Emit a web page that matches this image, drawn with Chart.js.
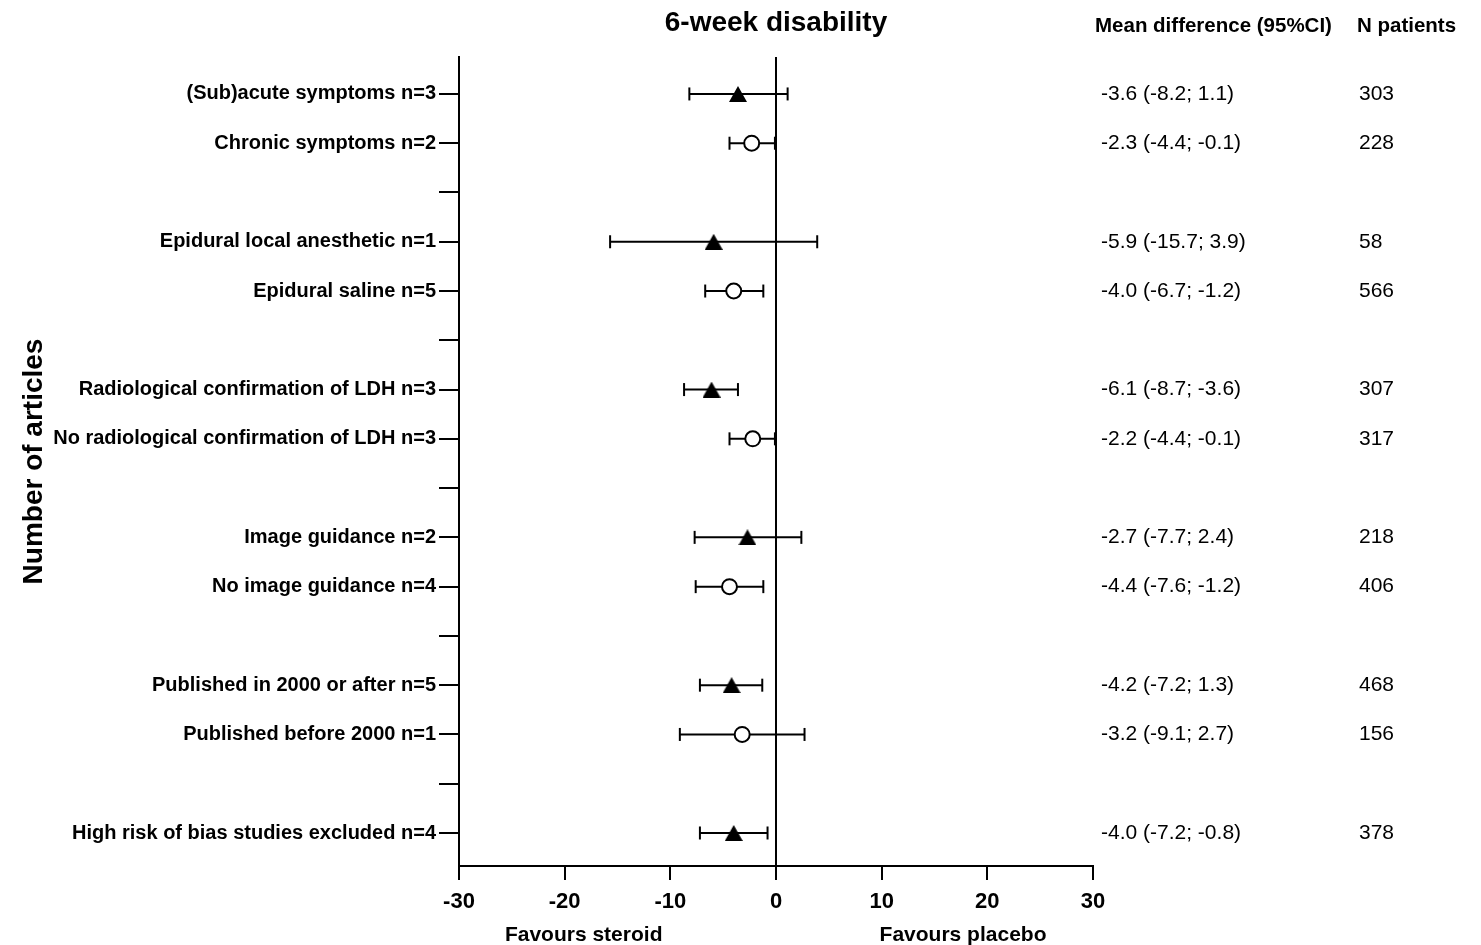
<!DOCTYPE html>
<html>
<head>
<meta charset="utf-8">
<script src="https://cdn.jsdelivr.net/npm/chart.js@4"></script>
<style>
  html, body { margin: 0; padding: 0; background: #fff; }
  canvas { display: block; }
</style>
</head>
<body>
<canvas id="c" width="1481" height="945"></canvas>
<script>
// ---- Data ----
const categories = [
  '(Sub)acute symptoms n=3', 'Chronic symptoms n=2', '',
  'Epidural local anesthetic n=1', 'Epidural saline n=5', '',
  'Radiological confirmation of LDH n=3', 'No radiological confirmation of LDH n=3', '',
  'Image guidance n=2', 'No image guidance n=4', '',
  'Published in 2000 or after n=5', 'Published before 2000 n=1', '',
  'High risk of bias studies excluded n=4'
];
const meanDiff = [-3.6, -2.3, null, -5.9, -4.0, null, -6.1, -2.2, null, -2.7, -4.4, null, -4.2, -3.2, null, -4.0];
const ciLow    = [-8.2, -4.4, null, -15.7, -6.7, null, -8.7, -4.4, null, -7.7, -7.6, null, -7.2, -9.1, null, -7.2];
const ciHigh   = [1.1, -0.1, null, 3.9, -1.2, null, -3.6, -0.1, null, 2.4, -1.2, null, -1.3, 2.7, null, -0.8];
const markerType = ['triangle', 'circle', null, 'triangle', 'circle', null, 'triangle', 'circle', null,
                    'triangle', 'circle', null, 'triangle', 'circle', null, 'triangle'];
const ciText = ['-3.6 (-8.2; 1.1)', '-2.3 (-4.4; -0.1)', '', '-5.9 (-15.7; 3.9)', '-4.0 (-6.7; -1.2)', '',
                '-6.1 (-8.7; -3.6)', '-2.2 (-4.4; -0.1)', '', '-2.7 (-7.7; 2.4)', '-4.4 (-7.6; -1.2)', '',
                '-4.2 (-7.2; 1.3)', '-3.2 (-9.1; 2.7)', '', '-4.0 (-7.2; -0.8)'];
const nPatients = ['303', '228', '', '58', '566', '', '307', '317', '', '218', '406', '', '468', '156', '', '378'];
const xTicks = [-30, -20, -10, 0, 10, 20, 30];
const chartTitle = '6-week disability';
const headerMD = 'Mean difference (95%CI)';
const headerN = 'N patients';
const yTitle = 'Number of articles';
const favourLeft = { text: 'Favours steroid', x: -18.2 };
const favourRight = { text: 'Favours placebo', x: 17.7 };

// ---- Marker image: triangle centred on its point ----
function makeTriangle(w, h) {
  const c = document.createElement('canvas');
  c.width = w; c.height = h;
  const g = c.getContext('2d');
  g.fillStyle = '#000';
  g.beginPath();
  g.moveTo(w / 2, 0);
  g.lineTo(w, h);
  g.lineTo(0, h);
  g.closePath();
  g.fill();
  return c;
}
const triImg = makeTriangle(18, 16);

// ---- Datasets ----
const FONT = "'Liberation Sans', Arial, Helvetica, sans-serif";
const datasets = [];
const tri = [], circ = [];
meanDiff.forEach((v, i) => {
  if (v === null) return;
  (markerType[i] === 'triangle' ? tri : circ).push({ x: v, y: i + 1 });
});
datasets.push({
  label: 'triangles', data: tri, showLine: false,
  pointStyle: triImg, pointRadius: 9, pointHoverRadius: 9,
  backgroundColor: '#000', borderColor: '#000', pointBorderWidth: 0
});
datasets.push({
  label: 'circles', data: circ, showLine: false,
  pointStyle: 'circle', pointRadius: 7.5, pointHoverRadius: 7.5,
  backgroundColor: '#fff', borderColor: '#000', pointBorderWidth: 2
});
meanDiff.forEach((v, i) => {
  if (v === null) return;
  datasets.push({
    label: 'ci' + i,
    data: [{ x: ciLow[i], y: i + 1 }, { x: ciHigh[i], y: i + 1 }],
    showLine: true, borderColor: '#000', borderWidth: 2,
    pointStyle: 'line', pointRotation: 90, pointRadius: 6.5, pointHoverRadius: 6.5,
    pointBorderWidth: 2, pointBorderColor: '#000', backgroundColor: '#000'
  });
});

// ---- Extra text plugin ----
const textPlugin = {
  id: 'forestText',
  afterDraw(chart) {
    const ctx = chart.ctx;
    const xs = chart.scales.x, ys = chart.scales.y;
    ctx.save();
    ctx.fillStyle = '#000';
    // Title
    ctx.font = 'bold 28px ' + FONT;
    ctx.textAlign = 'center';
    ctx.textBaseline = 'middle';
    ctx.fillText(chartTitle, (chart.chartArea.left + chart.chartArea.right) / 2, 23);
    // Headers
    ctx.font = 'bold 20.5px ' + FONT;
    ctx.textAlign = 'left';
    ctx.fillText(headerMD, 1095, 26);
    ctx.fillText(headerN, 1357, 26);
    // Row texts
    ctx.font = '21px ' + FONT;
    ciText.forEach((t, i) => {
      if (!t) return;
      const y = ys.getPixelForValue(i + 1);
      ctx.fillText(t, 1101, y);
      ctx.fillText(nPatients[i], 1359, y);
    });
    // Favours labels
    ctx.font = 'bold 21px ' + FONT;
    ctx.textAlign = 'center';
    ctx.fillText(favourLeft.text, xs.getPixelForValue(favourLeft.x), 935);
    ctx.fillText(favourRight.text, xs.getPixelForValue(favourRight.x), 935);
    ctx.restore();
  }
};

new Chart(document.getElementById('c'), {
  type: 'scatter',
  data: { datasets },
  options: {
    responsive: false,
    animation: false,
    events: [],
    layout: { padding: { left: 0, right: 388, top: 57, bottom: 0 } },
    plugins: { legend: { display: false }, tooltip: { enabled: false }, title: { display: false } },
    scales: {
      x: {
        type: 'linear', min: -30, max: 30,
        afterBuildTicks: axis => { axis.ticks = xTicks.map(v => ({ value: v })); },
        afterFit: scale => { scale.height = 79; },
        border: { display: true, color: '#000', width: 2 },
        grid: {
          color: c => (c.tick && c.tick.value === 0) ? '#000' : 'rgba(0,0,0,0)',
          lineWidth: 2, tickColor: '#000', tickLength: 14, drawOnChartArea: true
        },
        ticks: {
          color: '#000', padding: 9, maxRotation: 0, autoSkip: false,
          font: { family: FONT, size: 22, weight: 'bold' }
        }
      },
      y: {
        type: 'linear', reverse: true, min: 0.25, max: 16.67,
        afterBuildTicks: axis => { axis.ticks = categories.map((_, i) => ({ value: i + 1 })); },
        afterFit: scale => { scale.width = 459; },
        border: { display: true, color: '#000', width: 2 },
        grid: { drawOnChartArea: false, color: '#000', tickColor: '#000', lineWidth: 2, tickLength: 20 },
        ticks: {
          color: '#000', padding: 3, autoSkip: false,
          font: { family: FONT, size: 20, weight: 'bold' },
          callback: v => categories[Math.round(v) - 1] || ''
        },
        title: {
          display: true, text: yTitle, color: '#000',
          font: { family: FONT, size: 28, weight: 'bold' },
          padding: { top: 17, bottom: 0 }
        }
      }
    }
  },
  plugins: [textPlugin]
});
</script>
</body>
</html>
